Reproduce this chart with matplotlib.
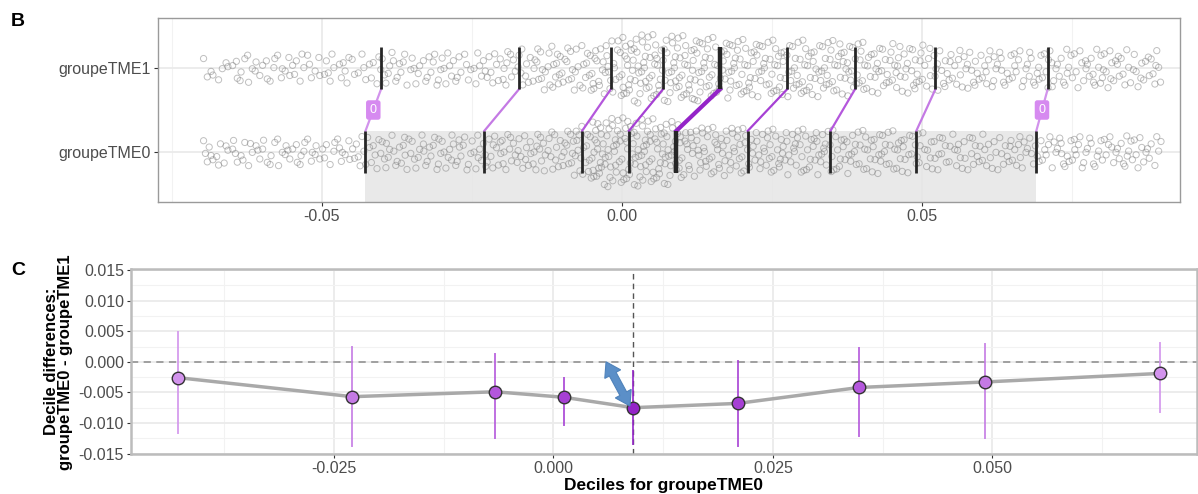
import numpy as np
import matplotlib
matplotlib.use("Agg")
import matplotlib.pyplot as plt
from matplotlib.patches import Rectangle, Polygon

plt.rcParams['font.family'] = ['Liberation Sans', 'DejaVu Sans']

# ---------------- data ----------------
groups = ['groupeTME0', 'groupeTME1']

bin_start = -0.070
bin_width = 0.005
counts_tme0 = [12, 13, 13, 13, 13, 16, 18, 18, 18, 20, 21, 21, 29, 45, 44, 42,
               29, 29, 26, 26, 26, 24, 24, 23, 18, 18, 18, 17, 17, 17, 17, 15]
counts_tme1 = [8, 12, 12, 12, 12, 12, 15, 15, 15, 15, 18, 23, 23, 29, 40, 38,
               37, 33, 31, 31, 31, 30, 26, 26, 22, 19, 19, 19, 19, 19, 19, 17]

deciles_tme0 = [-0.0427, -0.0229, -0.0066, 0.0012, 0.0091, 0.0210, 0.0348, 0.0491, 0.0691]
deciles_tme1 = [-0.0401, -0.0171, -0.0018, 0.0069, 0.0164, 0.0276, 0.0389, 0.0523, 0.0710]

diff_values = [-0.0026, -0.0057, -0.0049, -0.0058, -0.0075, -0.0068, -0.0042, -0.0033, -0.0019]
ci_low = [-0.0116, -0.0138, -0.0124, -0.0104, -0.0135, -0.0138, -0.0122, -0.0124, -0.0082]
ci_high = [0.0049, 0.0024, 0.0012, -0.0026, -0.0015, 0.0002, 0.0023, 0.0029, 0.0030]
decile_labels = ['0', '', '', '', '', '', '', '', '0']

xticks_top = [-0.05, 0.0, 0.05]
xticklabels_top = ['-0.05', '0.00', '0.05']
xticks_bot = [-0.025, 0.0, 0.025, 0.05]
xticklabels_bot = ['-0.025', '0.000', '0.025', '0.050']
yticks_bot = [-0.015, -0.010, -0.005, 0.0, 0.005, 0.010, 0.015]
yticklabels_bot = ['-0.015', '-0.010', '-0.005', '0.000', '0.005', '0.010', '0.015']

# ---------------- styles ----------------
dec_colors = ['#d293ec', '#c47ae4', '#b457dc', '#a640d4', '#9424c8',
              '#a640d4', '#b457dc', '#c47ae4', '#d293ec']
grid_c = '#ebebeb'
tick_c = '#4d4d4d'

fig = plt.figure(figsize=(11.98, 4.94), dpi=100)

# ---------------- panel B ----------------
axB = fig.add_axes([158/1198, 1-202/494, (1180-158)/1198, (202-18)/494])
axB.set_xlim(-0.07728, 0.09305)
axB.set_ylim(0.4, 2.6)

for xv in [-0.075, -0.025, 0.025, 0.075]:
    axB.axvline(xv, color='#f2f2f2', lw=0.8, zorder=0)
for xv in xticks_top:
    axB.axvline(xv, color=grid_c, lw=1.3, zorder=0)
for yv in [1, 2]:
    axB.axhline(yv, color=grid_c, lw=1.3, zorder=0)

# shaded area between first and last decile of group 0
axB.add_patch(Rectangle((deciles_tme0[0], 0.4), deciles_tme0[-1] - deciles_tme0[0], 0.85,
                        facecolor='#e6e6e6', edgecolor='none', alpha=0.85, zorder=1))


def vdc(n, base=2):
    v, denom = 0.0, 1.0
    while n:
        n, rem = divmod(n, base)
        denom *= base
        v += rem / denom
    return v


def strip_points(counts, center, offset):
    """Deterministic (Halton) layout of the observations of each bin,
    spread vertically in proportion to the local density."""
    counts = np.asarray(counts, float)
    centers = bin_start + bin_width * (np.arange(len(counts)) + 0.5)
    cmax = counts.max()
    xs, ys = [], []
    for j, c in enumerate(counts.astype(int)):
        lo = bin_start + j * bin_width
        for i in range(c):
            k = i + 1 + offset + 3 * j
            x = lo + vdc(k, 2) * bin_width
            hw = 0.08 + 0.34 * np.interp(x, centers, counts) / cmax
            y = center + (2 * vdc(k, 3) - 1) * hw
            xs.append(x)
            ys.append(y)
    return np.array(xs), np.array(ys)


for ci, (cnts, cen) in enumerate([(counts_tme0, 1), (counts_tme1, 2)]):
    px, py = strip_points(cnts, cen, ci * 5)
    axB.scatter(px, py, s=20, facecolors='none', edgecolors='#808080',
                linewidths=0.7, alpha=0.5, zorder=2)

for i in range(9):
    lw = 3.2 if i == 4 else 2.0
    axB.plot([deciles_tme0[i]] * 2, [0.75, 1.25], color='#262626', lw=lw, zorder=4,
             solid_capstyle='butt')
    axB.plot([deciles_tme1[i]] * 2, [1.75, 2.25], color='#262626', lw=lw, zorder=4,
             solid_capstyle='butt')
    axB.plot([deciles_tme0[i], deciles_tme1[i]], [1.25, 1.75], color=dec_colors[i],
             lw=3.0 if i == 4 else 1.6, zorder=3)
    if decile_labels[i]:
        axB.text((deciles_tme0[i] + deciles_tme1[i]) / 2, 1.5, decile_labels[i],
                 ha='center', va='center', fontsize=9, color='white', zorder=5,
                 bbox=dict(boxstyle='round,pad=0.3,rounding_size=0.2',
                           fc='#d68af0', ec='none'))

axB.set_yticks([1, 2])
axB.set_yticklabels(groups)
axB.set_xticks(xticks_top)
axB.set_xticklabels(xticklabels_top)
axB.tick_params(axis='both', colors='#333333', labelcolor=tick_c, labelsize=11.5,
                length=3, width=0.8, pad=2)
for s in axB.spines.values():
    s.set_color('#9a9a9a')
    s.set_linewidth(1.0)

fig.text(18/1198, 1-22/494, 'B', fontsize=14, fontweight='bold', ha='center', va='center')

# ---------------- panel C ----------------
axC = fig.add_axes([131/1198, 1-454.3/494, (1197-131)/1198, (454.3-269.3)/494])
axC.set_xlim(-0.0481, 0.0733)
axC.set_ylim(-0.01512, 0.01512)

for xv in [-0.0375, -0.0125, 0.0125, 0.0375, 0.0625]:
    axC.axvline(xv, color='#f2f2f2', lw=0.8, zorder=0)
for xv in xticks_bot:
    axC.axvline(xv, color=grid_c, lw=1.3, zorder=0)
for yv in [-0.0125, -0.0075, -0.0025, 0.0025, 0.0075, 0.0125]:
    axC.axhline(yv, color='#f2f2f2', lw=0.8, zorder=0)
for yv in yticks_bot:
    axC.axhline(yv, color=grid_c, lw=1.3, zorder=0)

axC.axhline(0, color='#9a9a9a', lw=1.3, ls=(0, (4, 3)), zorder=1)
axC.axvline(deciles_tme0[4], color='#555555', lw=1.0, ls=(0, (4, 3)), zorder=1)

for i in range(9):
    axC.plot([deciles_tme0[i]] * 2, [ci_low[i], ci_high[i]], color=dec_colors[i],
             lw=1.4, alpha=0.85, zorder=2)
axC.plot(deciles_tme0, diff_values, color='#a9a9a9', lw=2.5, zorder=3)
for i in range(9):
    axC.plot(deciles_tme0[i], diff_values[i], 'o', ms=9, mfc=dec_colors[i],
             mec='#333333', mew=1.0, zorder=4)

# blue double-headed annotation arrow (built in pixel space, placed in data space)
a_start = (0.0060, 0.0)
a_end = (0.00872, -0.00722)
p0, p1 = axC.transData.transform([a_start, a_end])
u = (p1 - p0) / np.linalg.norm(p1 - p0)
n = np.array([-u[1], u[0]])
head_len, head_hw, shaft_hw = 14.0, 9.0, 3.8
b0 = p0 + u * head_len
b1 = p1 - u * head_len
poly_px = [p0, b0 + n * head_hw, b0 + n * shaft_hw, b1 + n * shaft_hw, b1 + n * head_hw,
           p1, b1 - n * head_hw, b1 - n * shaft_hw, b0 - n * shaft_hw, b0 - n * head_hw]
poly_data = axC.transData.inverted().transform(np.array(poly_px))
axC.add_patch(Polygon(poly_data, closed=True, facecolor='#5b8fc8', edgecolor='#4f82ba',
                      lw=0.8, zorder=6))

axC.set_xticks(xticks_bot)
axC.set_xticklabels(xticklabels_bot)
axC.set_yticks(yticks_bot)
axC.set_yticklabels(yticklabels_bot)
axC.tick_params(axis='both', colors='#333333', labelcolor=tick_c, labelsize=11.5,
                length=3, width=0.8, pad=2)
for s in axC.spines.values():
    s.set_color('#bcbcbc')
    s.set_linewidth(1.8)

axC.set_xlabel('Deciles for groupeTME0', fontsize=12.5, fontweight='bold', labelpad=1)
axC.set_ylabel('Decile differences:\ngroupeTME0 - groupeTME1', fontsize=12,
               fontweight='bold', labelpad=4, linespacing=0.95)

fig.text(18/1198, 1-270/494, 'C', fontsize=14, fontweight='bold', ha='center', va='center')

fig.savefig('out.png', dpi=100)
